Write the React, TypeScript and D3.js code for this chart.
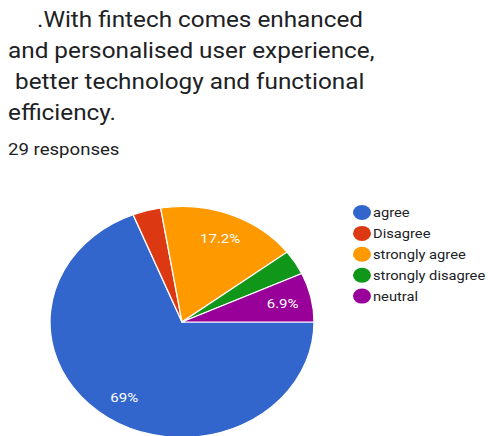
import React from "react";
import * as d3 from "d3";

const W = 488;
const H = 436;

const titleLines = [
  ".With fintech comes enhanced",
  "and personalised user experience,",
  "better technology and functional",
  "efficiency.",
];
const titleX = [37, 8, 15, 8];
const responsesLabel = "29 responses";

const categories = ["agree", "Disagree", "strongly agree", "strongly disagree", "neutral"];
const counts = [20, 1, 5, 1, 2];
const colors = ["#3366cc", "#dc3912", "#ff9900", "#109618", "#990099"];

// The whole figure is drawn slightly compressed vertically.
const SQUASH = 0.875;

function Txt(props: {
  x: number;
  y: number;
  size: number;
  fill: string;
  anchor?: string;
  children: React.ReactNode;
}) {
  return (
    <text
      transform={`translate(${props.x},${props.y}) scale(1,${SQUASH})`}
      fontSize={props.size}
      fill={props.fill}
      textAnchor={props.anchor ?? "start"}
    >
      {props.children}
    </text>
  );
}

export default function App() {
  const cx = 182;
  const cy = 322;
  const r = 132;
  const total = d3.sum(counts);

  const pie = d3
    .pie<number>()
    .sort(null)
    .value((d) => d)
    .startAngle(Math.PI / 2)
    .endAngle(Math.PI / 2 + 2 * Math.PI);
  const arcs = pie(counts);
  const arc = d3.arc<d3.PieArcDatum<number>>().innerRadius(0).outerRadius(r);
  const labelArc = d3.arc<d3.PieArcDatum<number>>().innerRadius(103).outerRadius(103);

  const pct = (v: number) => {
    const p = (v / total) * 100;
    return `${Math.round(p * 10) / 10}%`;
  };

  return (
    <svg
      width={W}
      height={H}
      style={{ position: "absolute", left: 0, top: 0, background: "#fff" }}
      fontFamily="Roboto, 'Noto Sans', sans-serif"
    >
      {titleLines.map((t, i) => (
        <Txt key={i} x={titleX[i]} y={27 + i * 31} size={24.3} fill="#202124">
          {t}
        </Txt>
      ))}
      <Txt x={8} y={155} size={18.6} fill="#202124">
        {responsesLabel}
      </Txt>

      <g transform={`translate(${cx},${cy}) scale(1,${SQUASH})`}>
        {arcs.map((a, i) => (
          <path key={i} d={arc(a) as string} fill={colors[i]} stroke="#fff" strokeWidth={1.3} />
        ))}
      </g>
      {arcs.map((a, i) => {
        if (a.value / total < 0.05) return null;
        const [lx, ly] = labelArc.centroid(a);
        return (
          <Txt key={i} x={cx + lx} y={cy + ly * SQUASH + 5} size={15} fill="#fff" anchor="middle">
            {pct(a.value)}
          </Txt>
        );
      })}

      {categories.map((c, i) => {
        const y = 212.5 + i * 20.9;
        return (
          <g key={c}>
            <ellipse cx={362} cy={y} rx={9} ry={7.5} fill={colors[i]} />
            <Txt x={373} y={y + 4.5} size={14.7} fill="#202124">
              {c}
            </Txt>
          </g>
        );
      })}
    </svg>
  );
}
